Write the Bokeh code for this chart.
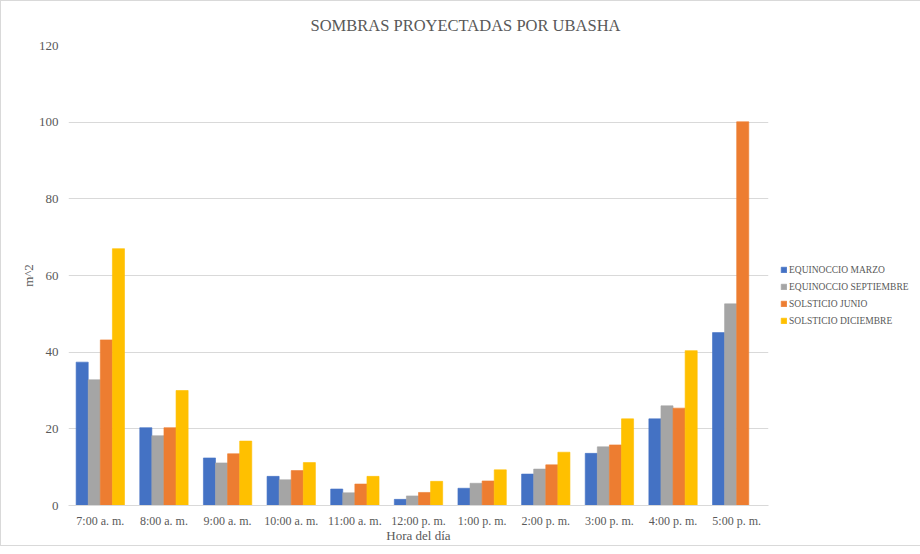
import math
from bokeh.plotting import figure
from bokeh.models import ColumnDataSource, FactorRange, Legend, LegendItem, Range1d, SingleIntervalTicker
from bokeh.transform import dodge
from bokeh.embed import file_html
from bokeh.resources import INLINE

horas = ["7:00 a. m.", "8:00 a. m.", "9:00 a. m.", "10:00 a. m.", "11:00 a. m.",
         "12:00 p. m.", "1:00 p. m.", "2:00 p. m.", "3:00 p. m.", "4:00 p. m.", "5:00 p. m."]
equinoccio_marzo = [37.4, 20.3, 12.4, 7.6, 4.3, 1.6, 4.5, 8.2, 13.6, 22.6, 45.1]
equinoccio_septiembre = [32.8, 18.2, 11.1, 6.7, 3.3, 2.5, 5.8, 9.5, 15.3, 26.0, 52.6]
solsticio_junio = [43.2, 20.3, 13.5, 9.1, 5.6, 3.4, 6.4, 10.6, 15.8, 25.4, 100.1]
solsticio_diciembre = [67.0, 30.0, 16.8, 11.2, 7.6, 6.3, 9.3, 13.9, 22.6, 40.4, float("nan")]

series_names = ["EQUINOCCIO MARZO", "EQUINOCCIO SEPTIEMBRE", "SOLSTICIO JUNIO", "SOLSTICIO DICIEMBRE"]
series_keys = ["marzo", "septiembre", "junio", "diciembre"]
colors = ["#4472C4", "#A5A5A5", "#ED7D31", "#FFC000"]
offsets = [-0.285, -0.095, 0.095, 0.285]

source = ColumnDataSource(dict(
    horas=horas,
    marzo=equinoccio_marzo,
    septiembre=equinoccio_septiembre,
    junio=solsticio_junio,
    diciembre=solsticio_diciembre,
))

FONT = "Liberation Serif"
TXT = "#595959"

p = figure(
    x_range=FactorRange(*horas),
    y_range=Range1d(0, 120),
    frame_width=700, frame_height=460,
    min_border_left=67, min_border_right=130, min_border_top=44, min_border_bottom=40,
    output_backend="svg", toolbar_location=None,
    title="SOMBRAS PROYECTADAS POR UBASHA",
)
p.styles = {"border": "1px solid #D9D9D9"}

renderers = []
for key, col, off in zip(series_keys, colors, offsets):
    r = p.vbar(x=dodge("horas", off, range=p.x_range), top=key, width=0.19, source=source,
               fill_color=col, line_color=col, line_alpha=0.6)
    renderers.append(r)

p.title.align = "left"
p.title.offset = 242
p.title.standoff = 21
p.title.text_font = FONT
p.title.text_font_style = "normal"
p.title.text_font_size = "16.5px"
p.title.text_color = TXT

p.outline_line_color = None
p.xgrid.grid_line_color = None
p.ygrid.grid_line_color = "#D9D9D9"
p.yaxis.ticker = SingleIntervalTicker(interval=20)
p.yaxis.axis_line_color = None
p.yaxis.major_label_standoff = 10
p.yaxis.axis_label = "m^2"
p.yaxis.axis_label_standoff = 0
p.xaxis.axis_label = "Hora del día"
p.xaxis.axis_label_standoff = -3
p.xaxis.axis_line_color = "#D9D9D9"
p.xaxis.major_label_standoff = 8
for ax in (p.xaxis, p.yaxis):
    ax.major_tick_line_color = None
    ax.minor_tick_line_color = None
    ax.major_tick_out = 0
    ax.major_tick_in = 0
    ax.minor_tick_out = 0
    ax.minor_tick_in = 0
    ax.major_label_text_font = FONT
    ax.major_label_text_color = TXT
    ax.axis_label_text_font = FONT
    ax.axis_label_text_font_size = "13px"
    ax.axis_label_text_font_style = "normal"
    ax.axis_label_text_color = TXT
p.xaxis.major_label_text_font_size = "12px"
p.yaxis.major_label_text_font_size = "13px"

legend = Legend(
    items=[LegendItem(label=n, renderers=[r]) for n, r in zip(series_names, renderers)],
    location=(12, 178),
    orientation="vertical",
    label_text_font=FONT,
    label_text_font_size="9.5px",
    label_text_color=TXT,
    glyph_width=7, glyph_height=7,
    label_standoff=2,
    spacing=4,
    padding=0,
    margin=0,
    label_height=13,
    border_line_color=None,
    background_fill_alpha=0,
)
p.add_layout(legend, "right")

open("out.html", "w").write(file_html(p, INLINE))
